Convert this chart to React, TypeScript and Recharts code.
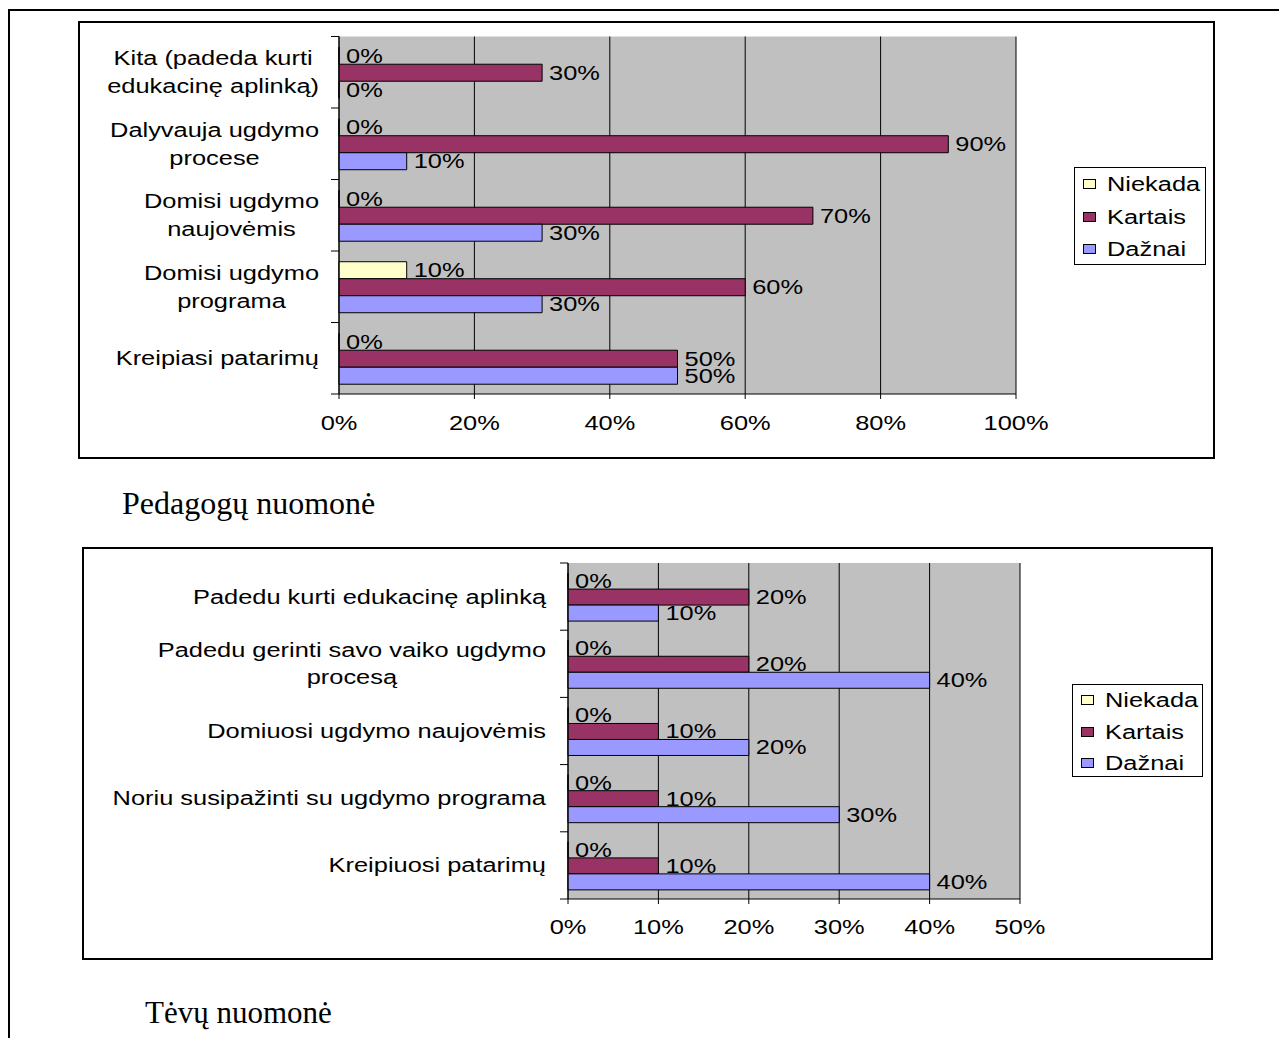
import React from "react";
import { BarChart, Bar, XAxis, YAxis, CartesianGrid, LabelList } from "recharts";

const seriesNames = ["Niekada", "Kartais", "Dažnai"];
const seriesColors = ["#FFFFCC", "#993366", "#9999FF"];

const teacherCategories = [
  "Kita (padeda kurti\nedukacinę aplinką)",
  "Dalyvauja ugdymo\nprocese",
  "Domisi ugdymo\nnaujovėmis",
  "Domisi ugdymo\nprograma",
  "Kreipiasi patarimų",
];
const teacherNiekada = [0, 0, 0, 10, 0];
const teacherKartais = [30, 90, 70, 60, 50];
const teacherDaznai = [0, 10, 30, 30, 50];
const teacherTicks = [0, 20, 40, 60, 80, 100];

const parentCategories = [
  "Padedu kurti edukacinę aplinką",
  "Padedu gerinti savo vaiko ugdymo\nprocesą",
  "Domiuosi ugdymo naujovėmis",
  "Noriu susipažinti su ugdymo programa",
  "Kreipiuosi patarimų",
];
const parentNiekada = [0, 0, 0, 0, 0];
const parentKartais = [20, 20, 10, 10, 10];
const parentDaznai = [10, 40, 20, 30, 40];
const parentTicks = [0, 10, 20, 30, 40, 50];

// the chart pictures were stretched sideways in the document
const STRETCH = 1.27;
const FONT = "'Liberation Sans', Arial, sans-serif";
const FONT_SIZE = 20;

let measureCtx: CanvasRenderingContext2D | null = null;
function textWidth(s: string) {
  if (!measureCtx) measureCtx = document.createElement("canvas").getContext("2d");
  if (!measureCtx) return s.length * 10;
  measureCtx.font = `${FONT_SIZE}px ${FONT}`;
  return measureCtx.measureText(s).width;
}

function toRows(cats: string[], a: number[], b: number[], c: number[]) {
  return cats.map((name, i) => ({
    name,
    [seriesNames[0]]: a[i],
    [seriesNames[1]]: b[i],
    [seriesNames[2]]: c[i],
  }));
}

const ValueTick = (props: any) => {
  const { x, y, payload } = props;
  return (
    <g transform={`translate(${x},${y}) scale(${STRETCH},1)`}>
      <text textAnchor="middle" dy="0.71em" fontSize={FONT_SIZE} fontFamily={FONT} fill="#000">
        {payload.value}%
      </text>
    </g>
  );
};

const ValueLabel = (props: any) => {
  const { x, y, width, height, value } = props;
  return (
    <g transform={`translate(${Number(x) + Number(width) + 7},${Number(y) + Number(height) / 2}) scale(${STRETCH},1)`}>
      <text dy="0.35em" fontSize={FONT_SIZE} fontFamily={FONT} fill="#000">
        {value}%
      </text>
    </g>
  );
};

function makeCategoryTick(band: number, count: number, gap: number, lineHeight: number) {
  return (props: any) => {
    const { x, y, payload, index } = props;
    const lines = String(payload.value).split("\n");
    const w = Math.max(...lines.map(textWidth));
    const top = -((lines.length - 1) * lineHeight) / 2;
    return (
      <g>
        <line x1={x - 8} x2={x} y1={y - band / 2} y2={y - band / 2} stroke="#000" />
        {index === count - 1 && (
          <line x1={x - 8} x2={x} y1={y + band / 2} y2={y + band / 2} stroke="#000" />
        )}
        <g transform={`translate(${x - gap},${y}) scale(${STRETCH},1)`}>
          <text textAnchor="middle" fontSize={FONT_SIZE} fontFamily={FONT} fill="#000">
            {lines.map((l, i) => (
              <tspan key={i} x={-w / 2} y={top + i * lineHeight} dy="0.35em">
                {l}
              </tspan>
            ))}
          </text>
        </g>
      </g>
    );
  };
}

function SeriesLegend({ left, top, width, height, firstRow, rowGap }: any) {
  return (
    <div
      style={{
        position: "absolute", left, top, width, height, boxSizing: "border-box",
        border: "1px solid #000", background: "#fff",
      }}
    >
      {seriesNames.map((n, i) => (
        <div
          key={n}
          style={{
            position: "absolute", left: 8, top: firstRow + i * rowGap - 11, height: 22,
            display: "flex", alignItems: "center", whiteSpace: "nowrap",
          }}
        >
          <span
            style={{
              width: 13, height: 10, border: "1px solid #000", boxSizing: "border-box",
              background: seriesColors[i], display: "inline-block",
            }}
          />
          <span
            style={{
              marginLeft: 11, fontSize: FONT_SIZE, lineHeight: "22px", fontFamily: FONT,
              display: "inline-block", transform: `scaleX(${STRETCH})`, transformOrigin: "left center",
            }}
          >
            {n}
          </span>
        </div>
      ))}
    </div>
  );
}

function PercentChart(props: any) {
  const { box, data, ticks, marginTop, marginRight, yWidth, xHeight, tickMargin, gap, lineHeight, legend } = props;
  const plotHeight = box.height - marginTop - xHeight;
  const band = plotHeight / data.length;
  const CategoryTick = makeCategoryTick(band, data.length, gap, lineHeight);
  return (
    <>
      <div style={{ position: "absolute", left: box.left, top: box.top }}>
        <BarChart
          width={box.width}
          height={box.height}
          data={data}
          layout="vertical"
          margin={{ top: marginTop, right: marginRight, left: 0, bottom: 0 }}
          barCategoryGap="15%"
          barGap={0}
        >
          <CartesianGrid horizontal={false} stroke="#000" fill="#C0C0C0" fillOpacity={1} />
          <XAxis
            type="number"
            domain={[0, ticks[ticks.length - 1]]}
            ticks={ticks}
            interval={0}
            height={xHeight}
            axisLine={{ stroke: "#000" }}
            tickLine={{ stroke: "#000" }}
            tickSize={5}
            tickMargin={tickMargin}
            tick={<ValueTick />}
          />
          <XAxis
            xAxisId="top"
            orientation="top"
            type="number"
            domain={[0, ticks[ticks.length - 1]]}
            height={0}
            tick={false}
            tickLine={false}
            axisLine={{ stroke: "#808080" }}
          />
          <YAxis
            type="category"
            dataKey="name"
            width={yWidth}
            interval={0}
            tickLine={false}
            tickSize={0}
            tickMargin={0}
            axisLine={{ stroke: "#000" }}
            tick={CategoryTick}
          />
          {seriesNames.map((n, i) => (
            <Bar
              key={n}
              dataKey={n}
              fill={seriesColors[i]}
              stroke="#000"
              strokeWidth={1}
              minPointSize={0.01}
              isAnimationActive={false}
            >
              <LabelList dataKey={n} content={<ValueLabel />} />
            </Bar>
          ))}
        </BarChart>
      </div>
      <div
        style={{
          position: "absolute", left: box.left, top: box.top, width: box.width, height: box.height,
          boxSizing: "border-box", border: "2px solid #000", pointerEvents: "none",
        }}
      />
      <SeriesLegend {...legend} />
    </>
  );
}

export default function App() {
  const teacherData = toRows(teacherCategories, teacherNiekada, teacherKartais, teacherDaznai);
  const parentData = toRows(parentCategories, parentNiekada, parentKartais, parentDaznai);
  return (
    <div
      style={{
        position: "absolute", left: 0, top: 0, width: 1279, height: 1038,
        background: "#fff", overflow: "hidden", fontFamily: FONT,
      }}
    >
      <div
        style={{
          position: "absolute", left: 8, top: 9, width: 1300, height: 1100,
          borderTop: "2px solid #000", borderLeft: "2px solid #000",
        }}
      />
      <PercentChart
        box={{ left: 78, top: 21, width: 1137, height: 438 }}
        data={teacherData}
        ticks={teacherTicks}
        marginTop={15.5}
        marginRight={199}
        yWidth={261}
        xHeight={65}
        tickMargin={17}
        gap={20}
        lineHeight={28}
        legend={{ left: 1074, top: 167, width: 132, height: 98, firstRow: 16, rowGap: 32.5 }}
      />
      <div
        style={{
          position: "absolute", left: 122, top: 487, fontFamily: "'Liberation Serif', serif",
          fontSize: 32, lineHeight: "32px", whiteSpace: "nowrap",
        }}
      >
        Pedagogų nuomonė
      </div>
      <PercentChart
        box={{ left: 82, top: 547, width: 1131, height: 413 }}
        data={parentData}
        ticks={parentTicks}
        marginTop={16}
        marginRight={193}
        yWidth={486}
        xHeight={61}
        tickMargin={16}
        gap={22}
        lineHeight={27}
        legend={{ left: 1072, top: 684, width: 131, height: 93, firstRow: 15, rowGap: 31.5 }}
      />
      <div
        style={{
          position: "absolute", left: 145, top: 997, fontFamily: "'Liberation Serif', serif",
          fontSize: 31, lineHeight: "31px", whiteSpace: "nowrap",
        }}
      >
        Tėvų nuomonė
      </div>
    </div>
  );
}
